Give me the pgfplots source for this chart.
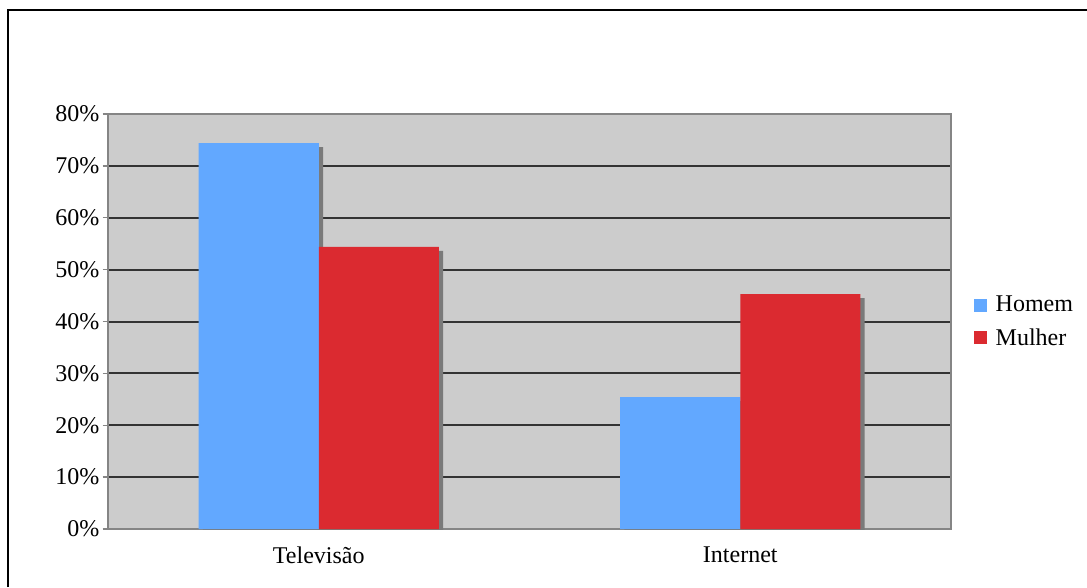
\documentclass[border=0pt]{standalone}
\usepackage{pgfplots}
\pgfplotsset{compat=1.18}
\usepackage{fontspec}
\setmainfont{Liberation Serif}
\usetikzlibrary{shadows}

\definecolor{homem}{HTML}{62A8FF}
\definecolor{mulher}{HTML}{DB2A30}
\definecolor{plotbg}{HTML}{CCCCCC}
\definecolor{gridc}{HTML}{333333}
\definecolor{axisc}{HTML}{858585}
\definecolor{shadowc}{HTML}{7A7A7A}

\begin{document}
\begin{tikzpicture}
% page is 1087x587 px, 1 px = 0.75pt
\path[use as bounding box] (0,0) rectangle (815.25pt,440.25pt);
\draw[black, line width=1.6pt] (6pt,0) -- (6pt,432.75pt) -- (815.25pt,432.75pt);

\begin{axis}[
    at={(81pt,43.5pt)}, anchor=origin,
    scale only axis,
    width=632.25pt, height=311.25pt,
    xmin=0, xmax=2, ymin=0, ymax=80,
    axis background/.style={fill=plotbg},
    axis line style={draw=axisc, line width=1.2pt},
    font=\fontsize{18}{21.5}\selectfont,
    /pgf/number format/assume math mode=true,
    tick align=outside,
    ytick pos=left, xtick pos=bottom,
    tick style={draw=axisc, line width=1pt},
    major tick length=4pt,
    xtick={0.5,1.5},
    xticklabels={Televisão,Internet},
    x tick style={draw=none},
    minor xtick={0,1,2},
    minor tick length=5pt,
    xticklabel style={yshift=-6pt},
    ytick={10,20,...,80},
    extra y ticks={0},
    extra y tick style={grid=none},
    yticklabel={\pgfmathprintnumber{\tick}\%},
    yticklabel style={xshift=1pt},
    ymajorgrids,
    major grid style={draw=gridc, line width=1.5pt},
    bar width=0.285,
    legend style={at={(1.022,0.5)}, anchor=west, draw=none, fill=none,
        font=\fontsize{18}{21.5}\selectfont, row sep=7pt,
        legend cell align=left},
]
\addplot[ybar, bar shift=-0.1425, fill=homem, draw=none, forget plot,
    drop shadow={shadow xshift=3.2pt, shadow yshift=-3pt, opacity=1, fill=shadowc}]
    coordinates {(0.5,74.4) (1.5,25.4)};
\addplot[ybar, bar shift=0.1425, fill=mulher, draw=none, forget plot,
    drop shadow={shadow xshift=3.2pt, shadow yshift=-3pt, opacity=1, fill=shadowc}]
    coordinates {(0.5,54.4) (1.5,45.3)};
\addlegendimage{legend image code/.code={\fill[homem] (0pt,-4.5pt) rectangle (9pt,4.5pt); \path (14pt,0);}}
\addlegendentry{Homem}
\addlegendimage{legend image code/.code={\fill[mulher] (0pt,-4.5pt) rectangle (9pt,4.5pt); \path (14pt,0);}}
\addlegendentry{Mulher}
\end{axis}
\end{tikzpicture}
\end{document}
